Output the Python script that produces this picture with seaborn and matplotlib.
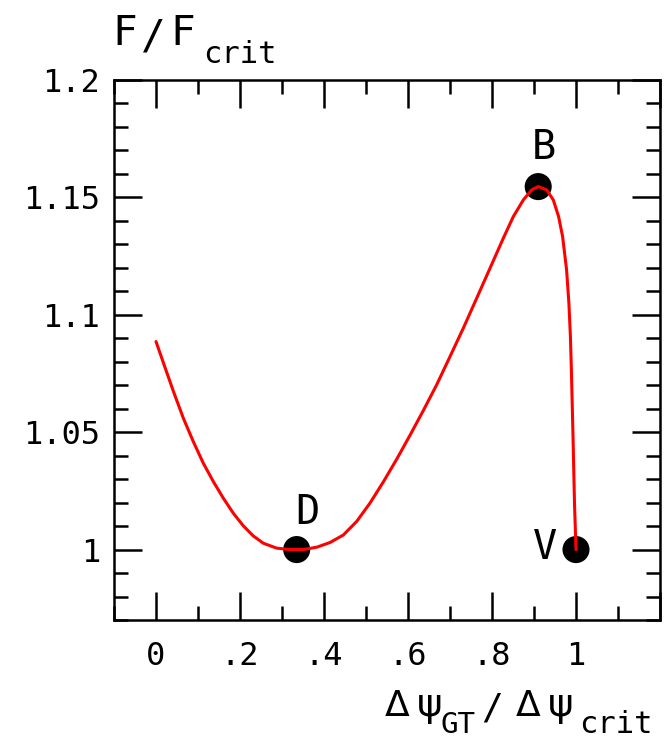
import matplotlib
matplotlib.use("Agg")
import matplotlib.pyplot as plt
import seaborn as sns
import pandas as pd
from matplotlib.ticker import FixedLocator, MultipleLocator

# Force ratio along the transition path
dpsi = [0.0000, 0.0214, 0.0412, 0.0650, 0.0888, 0.1126, 0.1364, 0.1602, 0.1840, 0.2079,
        0.2317, 0.2555, 0.2874, 0.3190, 0.3507, 0.3826, 0.4143, 0.4460, 0.4779, 0.5095,
        0.5412, 0.5731, 0.6048, 0.6364, 0.6683, 0.7000, 0.7317, 0.7636, 0.7952, 0.8269,
        0.8507, 0.8745, 0.8945, 0.9102, 0.9302, 0.9460, 0.9586, 0.9681, 0.9776, 0.9831,
        0.9867, 0.9890, 0.9929, 0.9964, 1.0000]
force = [1.0886, 1.0776, 1.0675, 1.0560, 1.0460, 1.0368, 1.0290, 1.0219, 1.0155, 1.0101,
         1.0058, 1.0027, 1.0006, 1.0000, 1.0000, 1.0010, 1.0030, 1.0062, 1.0120, 1.0198,
         1.0288, 1.0385, 1.0487, 1.0592, 1.0702, 1.0822, 1.0943, 1.1071, 1.1198, 1.1326,
         1.1418, 1.1489, 1.1532, 1.1546, 1.1532, 1.1489, 1.1418, 1.1333, 1.1191, 1.1049,
         1.0907, 1.0765, 1.0481, 1.0198, 1.0000]

# Special points
pt_names = ["D", "B", "V"]
pt_x = [0.335, 0.910, 1.000]
pt_y = [1.000, 1.1546, 1.000]

x_ticks = [0, 0.2, 0.4, 0.6, 0.8, 1.0, 1.2]
x_ticklabels = ["0", ".2", ".4", ".6", ".8", "1", ""]
y_ticks = [1.0, 1.05, 1.1, 1.15, 1.2]
y_ticklabels = ["1", "1.05", "1.1", "1.15", "1.2"]

sns.set_theme(style="ticks")
FONT = ["DejaVu Sans Mono", "DejaVu Sans"]
GREEK = ["DejaVu Sans"]
plt.rcParams["font.family"] = FONT
plt.rcParams["text.color"] = "black"

W, H = 668, 742
fig = plt.figure(figsize=(W / 100, H / 100), dpi=100)
ax = fig.add_axes([114 / W, 1 - 620 / H, (660 - 114) / W, (620 - 80) / H])

curve = pd.DataFrame({"dpsi": dpsi, "force": force})
sns.lineplot(data=curve, x="dpsi", y="force", sort=False, estimator=None,
             color="#ff0000", linewidth=2.2, ax=ax, zorder=3,
             solid_joinstyle="round", solid_capstyle="round")

pts = pd.DataFrame({"name": pt_names, "x": pt_x, "y": pt_y})
sns.scatterplot(data=pts, x="x", y="y", s=380, color="black", edgecolor="none",
                ax=ax, zorder=2)

offsets = {"D": (7.4, 26.3), "B": (4.1, 27.5), "V": (-22.4, 1.0)}
for name, x, y in zip(pt_names, pt_x, pt_y):
    ax.annotate(name, (x, y), xytext=offsets[name], textcoords="offset points",
                ha="center", va="center", fontsize=29, color="black")

ax.set_xlim(-0.1, 1.2)
ax.set_ylim(0.97, 1.2)
ax.xaxis.set_major_locator(FixedLocator(x_ticks))
ax.set_xticklabels(x_ticklabels)
ax.xaxis.set_minor_locator(MultipleLocator(0.1))
ax.yaxis.set_major_locator(FixedLocator(y_ticks))
ax.set_yticklabels(y_ticklabels)
ax.yaxis.set_minor_locator(MultipleLocator(0.01))

ax.tick_params(which="both", direction="in", top=True, right=True,
               width=1.8, color="black", labelcolor="black")
ax.tick_params(which="major", length=20, labelsize=23)
ax.tick_params(which="minor", length=10)
ax.tick_params(axis="x", which="major", pad=15)
ax.tick_params(axis="y", which="major", pad=10)

for sp in ax.spines.values():
    sp.set_visible(True)
    sp.set_linewidth(1.8)
    sp.set_color("black")

ax.set_xlabel("")
ax.set_ylabel("")


def put(text, x_px, base_px, size, family=FONT):
    fig.text(x_px / W, 1 - base_px / H, text, fontsize=size, color="black",
             ha="left", va="baseline", family=family)


# Vertical axis title: F/F_crit
put("F", 112, 45, 29.5)
put("/", 141, 48, 29.5)
put("F", 170, 45, 29.5)
put("crit", 203, 63, 22)

# Horizontal axis title: Δψ_GT / Δψ_crit
put("Δ", 385, 716, 26, GREEK)
put("ψ", 417, 716, 28, GREEK)
put("GT", 440, 733, 21)
put("/", 481, 718, 26)
put("Δ", 516, 716, 26, GREEK)
put("ψ", 548, 716, 28, GREEK)
put("crit", 579, 733, 22)

fig.savefig("out.png", dpi=100, facecolor="white")
